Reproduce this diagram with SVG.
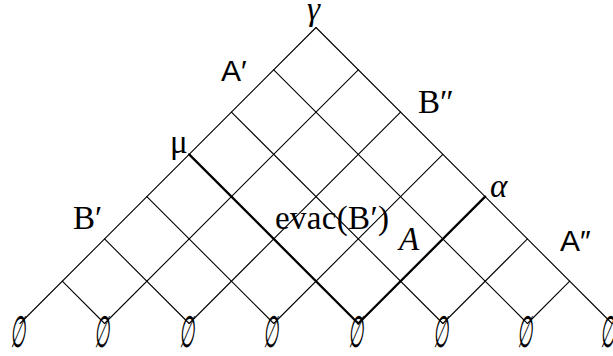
<svg xmlns="http://www.w3.org/2000/svg" width="613" height="356" viewBox="0 0 613 356">
<style>
.thin{stroke:#000;stroke-width:1.1;fill:none;stroke-linecap:round}
.thick{stroke:#000;stroke-width:2.3;fill:none;stroke-linecap:round}
.lbl{font-family:"Liberation Serif","DejaVu Serif",serif;font-size:33px;fill:#000}
.it{font-style:italic}
.sans{font-family:"Liberation Sans","DejaVu Sans",sans-serif;font-size:30px}
.es{font-family:"DejaVu Serif",serif;font-size:44px;fill:#000;text-anchor:middle}
</style>
<rect width="613" height="356" fill="#fff"/>
<g id="connectors">
<line class="thin" x1="316" y1="27.5" x2="20" y2="323.5"/>
<line class="thin" x1="358.29" y1="69.79" x2="104.57" y2="323.5"/>
<line class="thin" x1="400.57" y1="112.07" x2="189.14" y2="323.5"/>
<line class="thin" x1="442.86" y1="154.36" x2="273.71" y2="323.5"/>
<line class="thick" x1="485.14" y1="196.64" x2="358.29" y2="323.5"/>
<line class="thin" x1="527.43" y1="238.93" x2="442.86" y2="323.5"/>
<line class="thin" x1="569.71" y1="281.21" x2="527.43" y2="323.5"/>
<line class="thin" x1="316" y1="27.5" x2="612" y2="323.5"/>
<line class="thin" x1="273.71" y1="69.79" x2="527.43" y2="323.5"/>
<line class="thin" x1="231.43" y1="112.07" x2="442.86" y2="323.5"/>
<line class="thick" x1="189.14" y1="154.36" x2="358.29" y2="323.5"/>
<line class="thin" x1="146.86" y1="196.64" x2="273.71" y2="323.5"/>
<line class="thin" x1="104.57" y1="238.93" x2="189.14" y2="323.5"/>
<line class="thin" x1="62.29" y1="281.21" x2="104.57" y2="323.5"/>
</g>
<g id="gamma"><text class="lbl it" x="307" y="20">γ</text></g>
<g id="A1"><text class="lbl sans" x="221" y="81">A′</text></g>
<g id="B2"><text class="lbl" x="418" y="113">B″</text></g>
<g id="mu"><text class="lbl" x="170" y="153">μ</text></g>
<g id="B1"><text class="lbl" x="73" y="229">B′</text></g>
<g id="evac"><text class="lbl" x="275" y="229" textLength="114">evac(B′)</text></g>
<g id="A"><text class="lbl it" x="399" y="250">A</text></g>
<g id="alpha"><text class="lbl it" x="490" y="197">α</text></g>
<g id="A2"><text class="lbl sans" x="560" y="251">A″</text></g>
<g id="empties">
<text class="es" transform="translate(17.5,347) skewX(-6) scale(0.4,1)">∅</text>
<text class="es" transform="translate(102,347) skewX(-6) scale(0.4,1)">∅</text>
<text class="es" transform="translate(186.7,347) skewX(-6) scale(0.4,1)">∅</text>
<text class="es" transform="translate(271.3,347) skewX(-6) scale(0.4,1)">∅</text>
<text class="es" transform="translate(355.9,347) skewX(-6) scale(0.4,1)">∅</text>
<text class="es" transform="translate(440.5,347) skewX(-6) scale(0.4,1)">∅</text>
<text class="es" transform="translate(525.1,347) skewX(-6) scale(0.4,1)">∅</text>
<text class="es" transform="translate(608,347) skewX(-6) scale(0.4,1)">∅</text>
</g>
</svg>
